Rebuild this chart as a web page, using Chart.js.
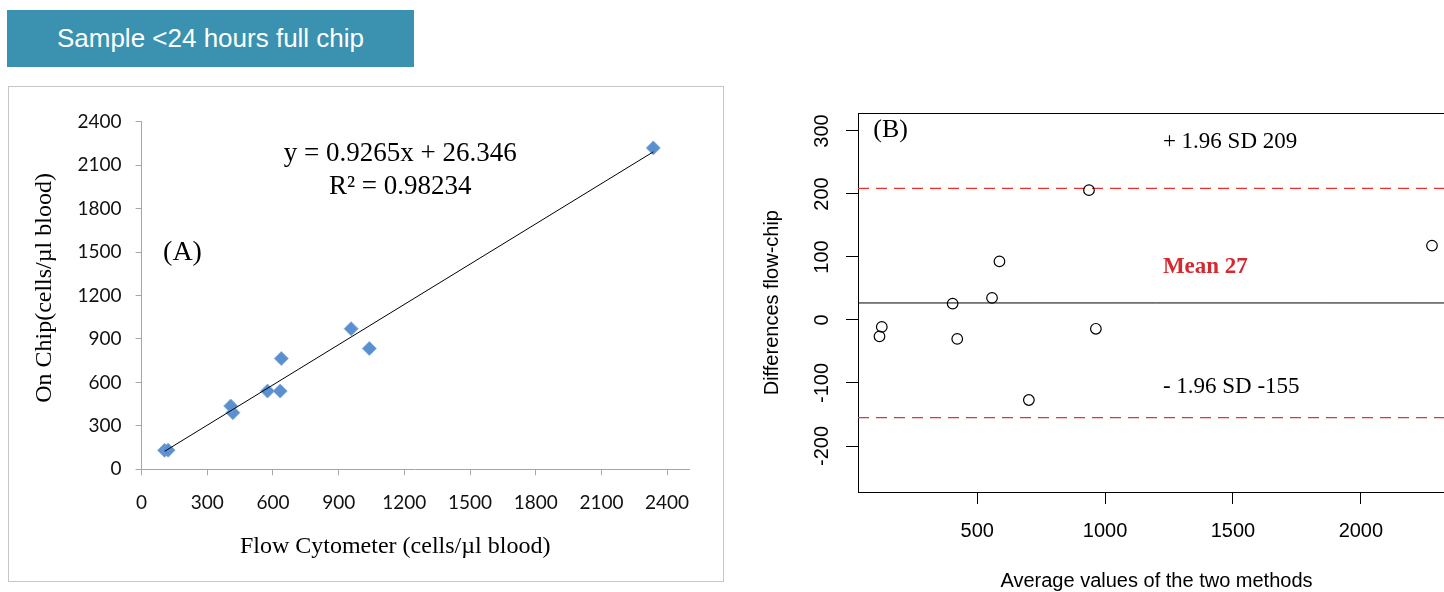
<!DOCTYPE html>
<html>
<head>
<meta charset="utf-8">
<title>Sample &lt;24 hours full chip</title>
<script src="https://cdn.jsdelivr.net/npm/chart.js@4.4.1/dist/chart.umd.min.js"></script>
<style>
  html, body { margin: 0; padding: 0; background: #ffffff; }
  body { width: 1444px; height: 592px; overflow: hidden; position: relative; }
  #banner {
    position: absolute; left: 7px; top: 10px; width: 407px; height: 57px;
    background: #3a92b0; color: #ffffff;
    font-family: "Liberation Sans", Arial, sans-serif; font-size: 26px;
    line-height: 57px; text-align: center;
  }
  #frameA {
    position: absolute; left: 8px; top: 86px; width: 716px; height: 496px;
    box-sizing: border-box; border: 1px solid #c6c6c6;
  }
  #chartA { position: absolute; left: 8px; top: 86px; }
  #chartB { position: absolute; left: 740px; top: 92px; }
</style>
</head>
<body>
<div id="banner">Sample &lt;24 hours full chip</div>
<div id="frameA"></div>
<canvas id="chartA" width="716" height="496"></canvas>
<canvas id="chartB" width="760" height="510"></canvas>
<script>
// ---- Panel A: flow cytometer vs on chip (cells/µl blood) ----
const flowCytometer = [105, 121, 417, 407, 575, 633, 638, 1040, 957, 2337];
const onChip = [131, 132, 391, 437, 540, 540, 765, 834, 971, 2219];
// ends of the linear trendline
const trendFlow = [105, 2337];
const trendChip = [124, 2192];
const ticksA = [0, 300, 600, 900, 1200, 1500, 1800, 2100, 2400];
const equationText = "y = 0.9265x + 26.346";
const r2Text = "R² = 0.98234";
const xTitleA = "Flow Cytometer (cells/µl blood)";
const yTitleA = "On Chip(cells/µl blood)";

// ---- Panel B: Bland-Altman, differences flow-chip ----
const averageValues = [118, 127, 404, 422, 558, 587, 702, 937, 964, 2278];
const differences = [-26, -11, 26, -30, 35, 93, -127, 206, -14, 118];
const meanDiff = 27;
const upperLimit = 209;
const lowerLimit = -155;
const ticksBx = [500, 1000, 1500, 2000];
const ticksBy = [-200, -100, 0, 100, 200, 300];
const upperLabel = "+ 1.96 SD 209";
const meanLabel = "Mean 27";
const lowerLabel = "- 1.96 SD -155";

const serif = '"Liberation Serif", "Times New Roman", serif';
const rangeBx = [34, 2368];

function setTicks(list) {
  return function (scale) {
    scale.ticks = list.map((v) => ({ value: v }));
  };
}
// plain numbers, no thousands separator
const plain = (v) => String(v);

// text on panel A (equation, labels, axis titles)
const panelAText = {
  id: "panelAText",
  afterDraw(chart) {
    const { ctx, chartArea, scales: { x, y } } = chart;
    ctx.save();
    ctx.fillStyle = "#000";
    ctx.textBaseline = "middle";
    ctx.textAlign = "center";
    ctx.font = "27px " + serif;
    ctx.fillText(equationText, x.getPixelForValue(1181), y.getPixelForValue(2177));
    ctx.fillText(r2Text, x.getPixelForValue(1181), y.getPixelForValue(1951));
    ctx.textAlign = "left";
    ctx.font = "28px " + serif;
    ctx.fillText("(A)", x.getPixelForValue(98), y.getPixelForValue(1493));
    ctx.textAlign = "center";
    ctx.font = "24px " + serif;
    ctx.fillText(xTitleA, x.getPixelForValue(1158), chartArea.bottom + 77.7);
    ctx.translate(37, y.getPixelForValue(1252));
    ctx.rotate(-Math.PI / 2);
    ctx.fillText(yTitleA, 0, 0);
    ctx.restore();
  },
};

const chartA = new Chart(document.getElementById("chartA").getContext("2d"), {
  type: "scatter",
  data: {
    datasets: [
      {
        data: trendFlow.map((v, i) => ({ x: v, y: trendChip[i] })),
        showLine: true,
        borderColor: "#000",
        borderWidth: 1,
        pointRadius: 0,
      },
      {
        data: flowCytometer.map((v, i) => ({ x: v, y: onChip[i] })),
        pointStyle: "rectRot",
        pointRadius: 7,
        backgroundColor: "#5a90cf",
        borderColor: "#7aa6da",
        borderWidth: 0.8,
      },
    ],
  },
  options: {
    responsive: false,
    animation: false,
    events: [],
    layout: { padding: { top: 35.7, right: 35, bottom: 0, left: 0 } },
    plugins: { legend: { display: false }, tooltip: { enabled: false } },
    scales: {
      x: {
        type: "linear",
        min: 0,
        max: 2500,
        afterBuildTicks: setTicks(ticksA),
        afterFit: (s) => { s.height = 112.7; },
        grid: { drawOnChartArea: false, drawTicks: true, tickLength: 6, color: "#a6a6a6" },
        border: { color: "#a6a6a6" },
        ticks: { callback: plain, padding: 16, color: "#111", font: { family: "Lato", size: 19 }, maxRotation: 0, autoSkip: false },
      },
      y: {
        type: "linear",
        min: 0,
        max: 2400,
        afterBuildTicks: setTicks(ticksA),
        afterFit: (s) => { s.width = 133.6; },
        grid: { drawOnChartArea: false, drawTicks: true, tickLength: 6, color: "#a6a6a6" },
        border: { color: "#a6a6a6" },
        ticks: { callback: plain, padding: 14, color: "#111", font: { family: "Lato", size: 19 }, autoSkip: false },
      },
    },
  },
  plugins: [panelAText],
});

// box and text for panel B
const panelBText = {
  id: "panelBText",
  beforeDatasetsDraw(chart) {
    const { ctx, chartArea } = chart;
    ctx.save();
    ctx.strokeStyle = "#000";
    ctx.lineWidth = 1;
    ctx.strokeRect(Math.round(chartArea.left) + 0.5, Math.round(chartArea.top) + 0.5,
      Math.round(chartArea.right - chartArea.left), Math.round(chartArea.bottom - chartArea.top));
    ctx.restore();
  },
  afterDatasetsDraw(chart) {
    const { ctx, scales: { x, y } } = chart;
    ctx.save();
    ctx.textBaseline = "middle";
    ctx.textAlign = "left";
    ctx.fillStyle = "#000";
    ctx.font = "26px " + serif;
    ctx.fillText("(B)", x.getPixelForValue(94), y.getPixelForValue(301));
    ctx.font = "23px " + serif;
    ctx.fillText(upperLabel, x.getPixelForValue(1226), y.getPixelForValue(283));
    ctx.fillText(lowerLabel, x.getPixelForValue(1226), y.getPixelForValue(-107));
    ctx.fillStyle = "#d42a2f";
    ctx.font = "bold 23px " + serif;
    ctx.fillText(meanLabel, x.getPixelForValue(1226), y.getPixelForValue(84));
    ctx.restore();
  },
};

function hLine(value, color, dash, width) {
  return {
    data: rangeBx.map((v) => ({ x: v, y: value })),
    showLine: true,
    borderColor: color,
    borderDash: dash,
    borderWidth: width,
    pointRadius: 0,
  };
}

const chartB = new Chart(document.getElementById("chartB").getContext("2d"), {
  type: "scatter",
  data: {
    datasets: [
      {
        data: averageValues.map((v, i) => ({ x: v, y: differences[i] })),
        pointStyle: "circle",
        pointRadius: 5.3,
        backgroundColor: "rgba(0,0,0,0)",
        borderColor: "#000",
        borderWidth: 1.2,
      },
      hLine(meanDiff, "#000", [], 1),
      hLine(upperLimit, "#ee3030", [11, 7], 1.3),
      hLine(lowerLimit, "#ee3030", [11, 7], 1.3),
    ],
  },
  options: {
    responsive: false,
    animation: false,
    events: [],
    layout: { padding: { top: 21.3, right: 45, bottom: 0, left: 0 } },
    plugins: { legend: { display: false }, tooltip: { enabled: false } },
    scales: {
      x: {
        type: "linear",
        min: rangeBx[0],
        max: rangeBx[1],
        afterBuildTicks: setTicks(ticksBx),
        afterFit: (s) => { s.height = 110; },
        grid: { drawOnChartArea: false, drawTicks: true, tickLength: 12, color: "#000" },
        border: { color: "#000" },
        ticks: { callback: plain, padding: 15, color: "#000", font: { family: "Liberation Sans", size: 20 }, maxRotation: 0, autoSkip: false },
        title: {
          display: true,
          text: "Average values of the two methods",
          color: "#000",
          font: { family: "Liberation Sans", size: 20 },
          padding: { top: 0, bottom: 9 },
        },
      },
      y: {
        type: "linear",
        min: -273,
        max: 328,
        afterBuildTicks: setTicks(ticksBy),
        afterFit: (s) => { s.width = 118; },
        grid: { drawOnChartArea: false, drawTicks: true, tickLength: 12, color: "#000" },
        border: { color: "#000" },
        ticks: {
          callback: plain,
          padding: 4,
          color: "#000",
          font: { family: "Liberation Sans", size: 20 },
          minRotation: 90,
          maxRotation: 90,
          crossAlign: "center",
          autoSkip: false,
        },
        title: {
          display: true,
          text: "Differences flow-chip",
          color: "#000",
          font: { family: "Liberation Sans", size: 20 },
          padding: { top: 20, bottom: 0 },
        },
      },
    },
  },
  plugins: [panelBText],
});
</script>
</body>
</html>
